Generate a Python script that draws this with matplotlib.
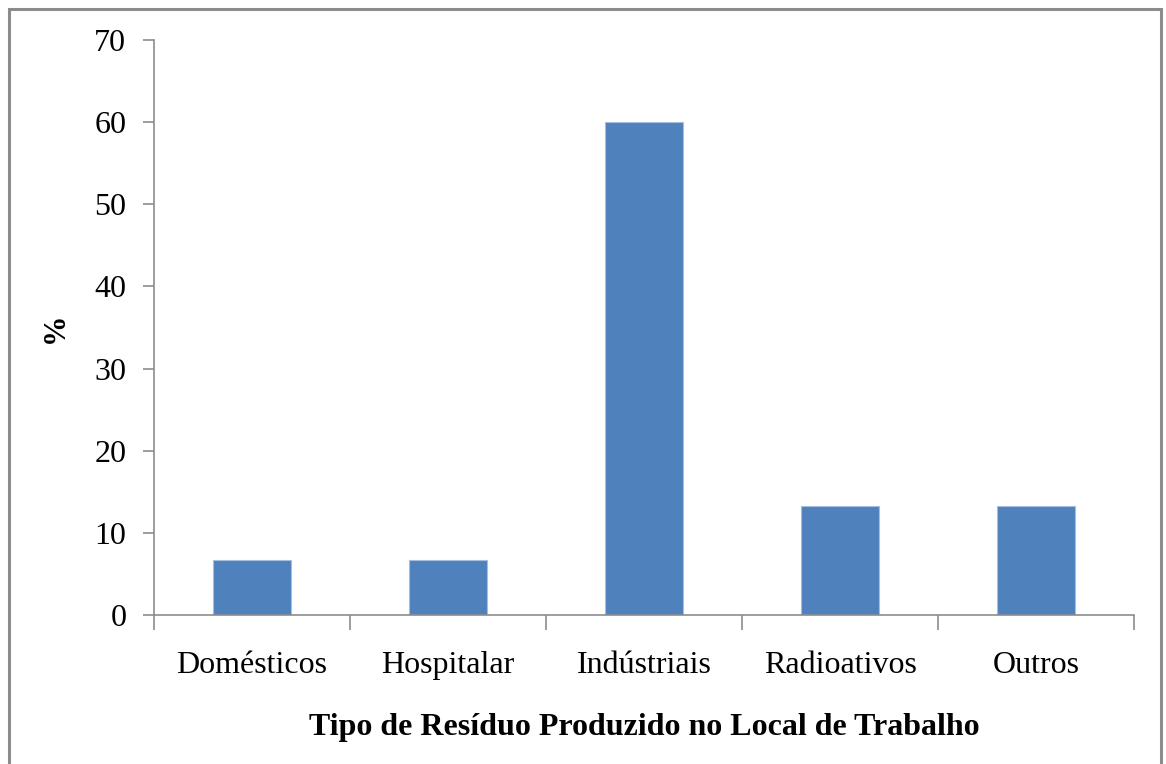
import matplotlib.pyplot as plt
import numpy as np
from matplotlib.patches import Rectangle

categories = ["Domésticos", "Hospitalar", "Indústriais", "Radioativos", "Outros"]
percent = [6.67, 6.67, 60.0, 13.33, 13.33]

plt.rcParams['font.family'] = ['Liberation Serif', 'DejaVu Serif']

fig = plt.figure(figsize=(11.66, 7.64), dpi=100)
ax = fig.add_axes([0.1321, 0.195, 0.8405, 0.7526])

x = np.arange(len(categories))
ax.bar(x, percent, width=0.4, color='#4F81BD', edgecolor='#A7BFDE', linewidth=0.8, zorder=2)

ax.set_xlim(-0.5, len(categories) - 0.5)
ax.set_ylim(0, 70)
ax.set_yticks(range(0, 71, 10))

# category labels centred under bars, tick marks between categories
ax.set_xticks(x)
ax.set_xticklabels(categories)
ax.set_xticks(np.arange(-0.5, len(categories)), minor=True)
ax.tick_params(axis='x', which='major', length=0, pad=26, labelsize=23)
ax.tick_params(axis='x', which='minor', length=11, width=1.2, color='#8C8C8C')
ax.tick_params(axis='y', length=8, width=1.2, color='#8C8C8C', pad=12, labelsize=23)

for side in ['top', 'right']:
    ax.spines[side].set_visible(False)
for side in ['left', 'bottom']:
    ax.spines[side].set_color('#8C8C8C')
    ax.spines[side].set_linewidth(1.2)

ax.set_xlabel('Tipo de Resíduo Produzido no Local de Trabalho', fontsize=23,
              fontweight='bold', labelpad=24)
ax.set_ylabel('%', fontsize=22, fontweight='bold')
ax.yaxis.set_label_coords(-0.086, 0.5)

# outer frame of the chart area
fig.patches.append(Rectangle((9 / 1166, -0.01), 1152 / 1166, 1 - 9 / 764 + 0.01,
                             transform=fig.transFigure, fill=False,
                             edgecolor='#8C8C8C', linewidth=2.2))

fig.savefig('out.png', dpi=100)
